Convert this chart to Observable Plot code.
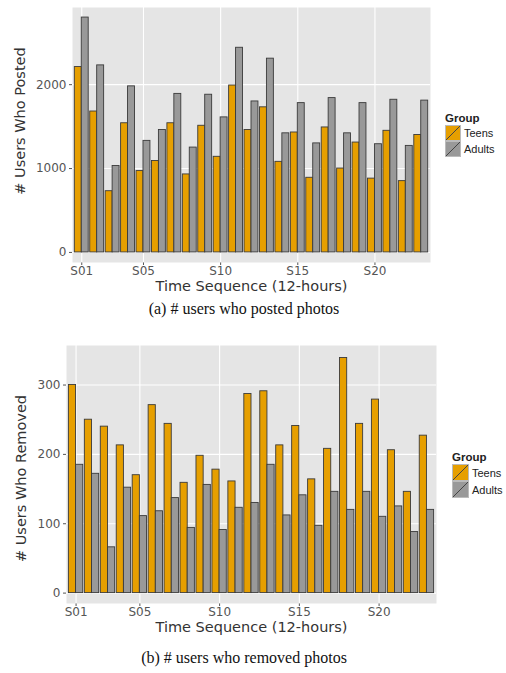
<!DOCTYPE html>
<html>
<head>
<meta charset="utf-8">
<script src="https://cdn.jsdelivr.net/npm/d3@7"></script>
<script src="https://cdn.jsdelivr.net/npm/@observablehq/plot@0.6"></script>
<style>
  html, body { margin: 0; padding: 0; background: #ffffff; }
  #wrap { position: relative; width: 506px; height: 673px; overflow: hidden; font-family: "Liberation Sans", Arial, sans-serif; }
  .panel { position: absolute; left: 0; }
  .caption { position: absolute; width: 506px; text-align: center; font-family: "Liberation Serif", "Times New Roman", serif; font-size: 16px; color: #111; line-height: 18px; }
  .legend { position: absolute; font-family: "Liberation Sans", Arial, sans-serif; color: #222; }
  .legend .title { font-weight: bold; font-size: 11.5px; line-height: 14px; }
  .legend .row { display: flex; align-items: center; font-size: 11px; height: 16px; }
  .legend .row svg { margin-right: 3px; }
</style>
</head>
<body>
<div id="wrap"></div>
<script>
// ---- data ----
const slots = ["S01","S02","S03","S04","S05","S06","S07","S08","S09","S10","S11","S12",
               "S13","S14","S15","S16","S17","S18","S19","S20","S21","S22","S23"];
const groups = ["Teens", "Adults"];
const groupColors = ["#E69F00", "#999999"];
const tickSlots = ["S01", "S05", "S10", "S15", "S20"];

const teensPosted  = [2210,1680,730,1540,970,1090,1540,930,1510,1140,1990,1460,1730,1080,1430,890,1490,1000,1310,880,1450,850,1400];
const adultsPosted = [2800,2230,1030,1980,1330,1460,1890,1250,1880,1610,2440,1800,2310,1420,1780,1300,1840,1420,1780,1290,1820,1270,1810];
const postedTicks = [0, 1000, 2000];

const teensRemoved  = [300,250,240,213,170,271,244,159,198,178,161,287,291,213,241,164,208,339,244,279,206,146,227];
const adultsRemoved = [185,172,66,152,111,118,137,94,156,91,123,130,185,112,141,97,146,120,146,110,125,88,120];
const removedTicks = [0, 100, 200, 300];

const xTitle = "Time Sequence (12-hours)";
const captionA = "(a) # users who posted photos";
const captionB = "(b) # users who removed photos";

// ---- build rows ----
function rows(teens, adults) {
  const out = [];
  slots.forEach((s, i) => {
    out.push({idx: i + 1, slot: s, group: "Teens", value: teens[i], side: -1});
    out.push({idx: i + 1, slot: s, group: "Adults", value: adults[i], side: 1});
  });
  return out;
}

const half = 0.45; // dodge width (ggplot default 0.9 / 2)

function panel(opts) {
  const data = rows(opts.teens, opts.adults);
  const tickIdx = tickSlots.map(s => slots.indexOf(s) + 1);
  return Plot.plot({
    width: 506,
    height: opts.height,
    marginLeft: opts.ml,
    marginRight: opts.mr,
    marginTop: opts.mt,
    marginBottom: opts.mb,
    style: {fontFamily: "'DejaVu Sans', 'Liberation Sans', sans-serif", fontSize: "12px", color: "#555", background: "transparent", overflow: "visible"},
    x: {domain: [0.4, slots.length + 0.6], ticks: tickIdx, tickFormat: i => slots[i - 1], label: null, tickSize: 3, tickPadding: 1},
    y: {domain: opts.ydomain, ticks: opts.yticks, tickFormat: d3.format("d"), label: null, tickSize: 3, tickPadding: 3},
    color: {domain: groups, range: groupColors},
    marks: [
      Plot.frame({fill: "#e5e5e5"}),
      Plot.ruleX(tickIdx, {stroke: "#ffffff", strokeWidth: 1.1}),
      Plot.ruleY(opts.yticks, {stroke: "#ffffff", strokeWidth: 1.1}),
      Plot.rectY(data, {
        x1: d => d.side < 0 ? d.idx - half : d.idx,
        x2: d => d.side < 0 ? d.idx : d.idx + half,
        y1: 0,
        y2: "value",
        fill: "group",
        stroke: "#3a3a3a",
        strokeWidth: 0.9
      }),
      Plot.text([xTitle], {frameAnchor: "bottom", textAnchor: "middle", dy: opts.xtdy, fill: "#333", fontSize: 14.5}),
      Plot.text([opts.ytitle], {frameAnchor: "left", textAnchor: "middle", rotate: -90, dx: opts.ytdx, dy: opts.ytdy, fill: "#333", fontSize: 14.5})
    ]
  });
}

function legend(left, top, keySize) {
  const div = document.createElement("div");
  div.className = "legend";
  div.style.left = left + "px";
  div.style.top = top + "px";
  let html = `<div class="title">Group</div>`;
  groups.forEach((g, i) => {
    html += `<div class="row" style="height:${keySize}px"><svg width="${keySize}" height="${keySize}">
      <rect x="0.5" y="0.5" width="${keySize-1}" height="${keySize-1}" fill="${groupColors[i]}" stroke="#bbb" stroke-width="1"/>
      <line x1="1" y1="${keySize-1}" x2="${keySize-1}" y2="1" stroke="#444" stroke-width="1"/>
    </svg><span>${g}</span></div>`;
  });
  div.innerHTML = html;
  return div;
}

const wrap = document.getElementById("wrap");

const p1 = panel({teens: teensPosted, adults: adultsPosted, height: 296, ml: 72, mr: 76, mt: 7, mb: 34,
  ydomain: [-120, 2920], yticks: postedTicks, ytitle: "# Users Who Posted", xtdy: 28, ytdx: -52, ytdy: -14});
p1.classList.add("panel"); p1.style.top = "0px";
wrap.appendChild(p1);

const c1 = document.createElement("div");
c1.className = "caption"; c1.textContent = captionA; c1.style.top = "300px"; c1.style.left = "-9px";
wrap.appendChild(c1);

const p2 = panel({teens: teensRemoved, adults: adultsRemoved, height: 317, ml: 66, mr: 70, mt: 25, mb: 34,
  ydomain: [-15, 357], yticks: removedTicks, ytitle: "# Users Who Removed", xtdy: 28, ytdx: -45, ytdy: 4});
p2.classList.add("panel"); p2.style.top = "320px";
wrap.appendChild(p2);

const c2 = document.createElement("div");
c2.className = "caption"; c2.textContent = captionB; c2.style.top = "649px"; c2.style.left = "-9px";
wrap.appendChild(c2);

wrap.appendChild(legend(445, 111, 16));
wrap.appendChild(legend(452, 450, 17));
</script>
</body>
</html>
